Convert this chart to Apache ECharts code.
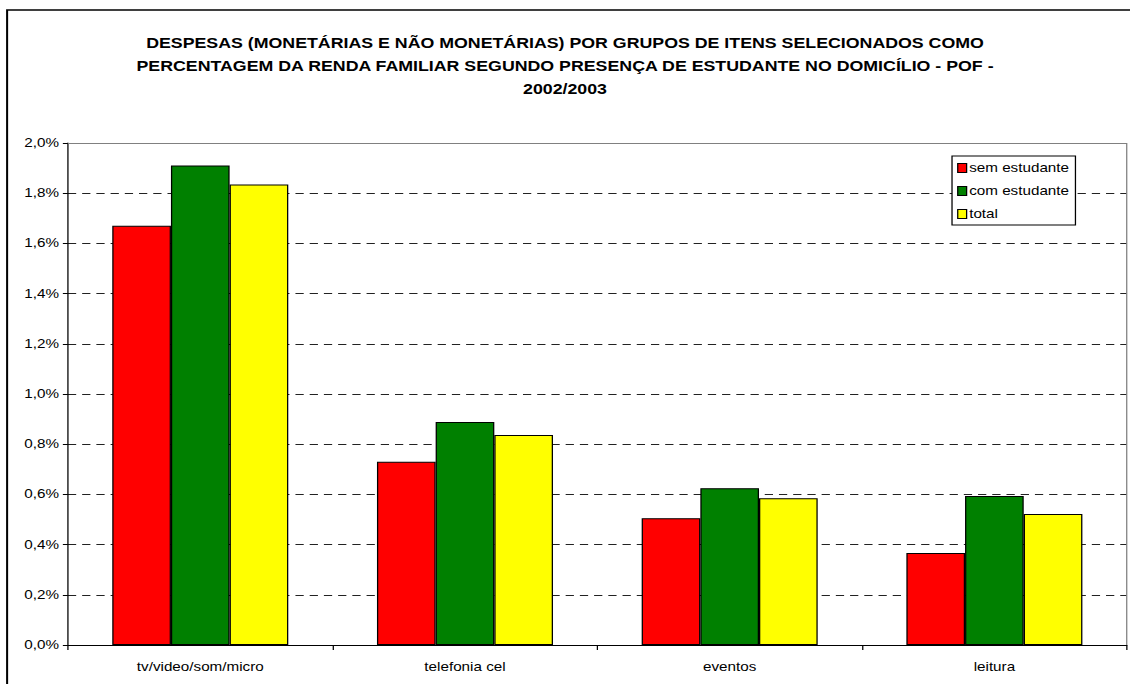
<!DOCTYPE html>
<html>
<head>
<meta charset="utf-8">
<script src="https://cdn.jsdelivr.net/npm/echarts@6/dist/echarts.min.js"></script>
<style>
  html, body { margin: 0; padding: 0; background: #fff; overflow: hidden; }
  #wrap { width: 1130px; height: 684px; overflow: hidden; }
  /* The chart is laid out on a narrower canvas and widened horizontally,
     giving the wide, horizontally stretched lettering of the original. */
  #chart { width: 890px; height: 684px; transform: scaleX(1.2697); transform-origin: 0 0; }
</style>
</head>
<body>
<div id="wrap"><div id="chart"></div></div>
<script>
// Categories of expenditure
const categories = ['tv/video/som/micro', 'telefonia cel', 'eventos', 'leitura'];

// Share of family income (%) by student presence in the household
const semEstudante = [1.67, 0.73, 0.505, 0.367];
const comEstudante = [1.91, 0.888, 0.625, 0.594];
const total = [1.835, 0.837, 0.585, 0.522];

const seriesNames = ['sem estudante', 'com estudante', 'total'];
const seriesColors = ['#FF0000', '#008000', '#FFFF00'];

const titleText = 'DESPESAS (MONETÁRIAS E NÃO MONETÁRIAS) POR GRUPOS DE ITENS SELECIONADOS COMO\n' +
  'PERCENTAGEM DA RENDA FAMILIAR SEGUNDO PRESENÇA DE ESTUDANTE NO DOMICÍLIO - POF -\n' +
  '2002/2003';

const FONT = '"Liberation Sans", Arial, sans-serif';

const chart = echarts.init(document.getElementById('chart'), null, { renderer: 'svg' });

// plot area in the (unstretched) layout space
const gridBox = { left: 53.5, top: 143, right: 2.6, bottom: 39 };
const plotRight = 890 - gridBox.right;
const plotBottom = 684 - gridBox.bottom;

function bar(name, data, color) {
  return {
    name: name,
    type: 'bar',
    data: data,
    barGap: '0%',
    barCategoryGap: '33.5%',
    itemStyle: { color: color, borderColor: '#000', borderWidth: 1 },
    emphasis: { disabled: true }
  };
}

chart.setOption({
  animation: false,
  backgroundColor: '#fff',
  textStyle: { fontFamily: FONT },
  title: {
    text: titleText,
    left: 'center',
    top: 27,
    textStyle: {
      fontFamily: FONT,
      fontSize: 14,
      fontWeight: 'bold',
      color: '#000',
      lineHeight: 23
    }
  },
  legend: {
    orient: 'vertical',
    left: 749.8,
    top: 156,
    padding: [6, 5, 5, 4],
    itemGap: 11,
    itemWidth: 7,
    itemHeight: 9,
    icon: 'rect',
    backgroundColor: '#fff',
    borderColor: '#000',
    borderWidth: 1,
    itemStyle: { borderColor: '#000', borderWidth: 1 },
    textStyle: { fontFamily: FONT, fontSize: 12, color: '#000', padding: [0, 0, 0, -3] },
    data: seriesNames
  },
  grid: {
    left: gridBox.left,
    top: gridBox.top,
    right: gridBox.right,
    bottom: gridBox.bottom,
    containLabel: false
  },
  xAxis: {
    type: 'category',
    data: categories,
    axisLine: { lineStyle: { color: '#000', width: 1 } },
    axisTick: { show: true, length: 5, lineStyle: { color: '#000' } },
    axisLabel: { color: '#000', fontSize: 12, fontFamily: FONT, margin: 16 },
    splitLine: { show: false }
  },
  yAxis: {
    type: 'value',
    min: 0,
    max: 2,
    interval: 0.2,
    axisLine: { show: true, lineStyle: { color: '#000', width: 1 } },
    axisTick: { show: true, length: 4, inside: false, lineStyle: { color: '#000' } },
    axisLabel: {
      color: '#000',
      fontSize: 12,
      fontFamily: FONT,
      margin: 7,
      formatter: v => v.toFixed(1).replace('.', ',') + '%'
    },
    splitLine: {
      show: true,
      lineStyle: { color: '#222', type: [6.5, 4.7], width: 1 }
    }
  },
  series: [
    bar(seriesNames[0], semEstudante, seriesColors[0]),
    bar(seriesNames[1], comEstudante, seriesColors[1]),
    bar(seriesNames[2], total, seriesColors[2])
  ],
  graphic: [
    // outer chart frame
    {
      type: 'rect',
      shape: { x: 5.6, y: 10, width: 900, height: 700 },
      style: { fill: 'none', stroke: '#000', lineWidth: 1.6 },
      z: 100,
      silent: true
    },
    // plot area border (top and right edges)
    {
      type: 'polyline',
      shape: { points: [[gridBox.left, gridBox.top + 0.5], [plotRight, gridBox.top + 0.5], [plotRight, plotBottom]] },
      style: { fill: 'none', stroke: '#808080', lineWidth: 1 },
      z: 100,
      silent: true
    }
  ]
});
</script>
</body>
</html>
